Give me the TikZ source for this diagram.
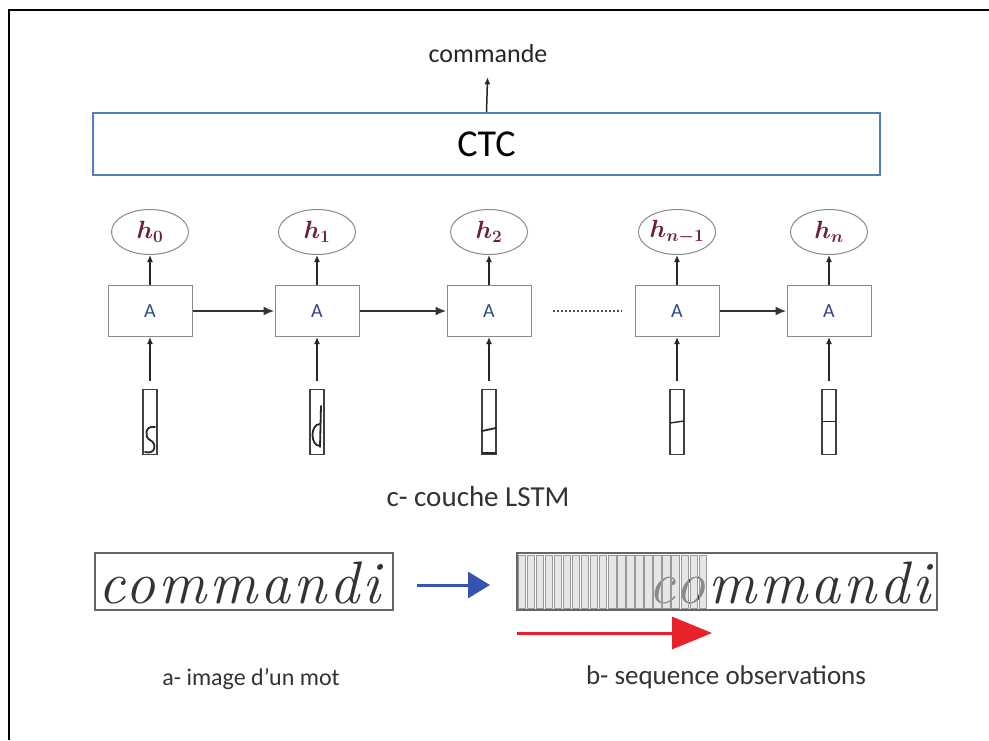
\documentclass[tikz,border=0pt]{standalone}
\usepackage{amsmath,bm}
\usepackage{fontspec}
\setmainfont{Carlito}
\newfontfamily\handfont[LetterSpace=5]{Latin Modern Roman}
\usetikzlibrary{arrows.meta,shapes.geometric}

\definecolor{ctcblue}{HTML}{4F7EC2}
\definecolor{hred}{HTML}{6E1E3C}
\definecolor{cellblue}{HTML}{2E4A86}
\definecolor{edgegray}{HTML}{8A8A8A}
\definecolor{bluearrow}{HTML}{3553B0}
\definecolor{redarrow}{HTML}{E8222B}

\tikzset{
  cell/.style={draw=edgegray, line width=1pt, minimum width=84pt, minimum height=51pt,
    inner sep=0pt, text=cellblue, font=\fontsize{20}{20}\selectfont},
  state/.style={ellipse, draw=edgegray, line width=1pt, minimum width=77pt,
    minimum height=45pt, inner sep=0pt, text=hred, font=\fontsize{23}{26}\selectfont},
  column/.style={draw=black!75, line width=1.2pt, minimum width=14pt,
    minimum height=65pt, inner sep=0pt},
  up/.style={-{Latex[length=7pt,width=6pt]}, line width=1.5pt, draw=black!85},
  flow/.style={-{Latex[length=11pt,width=9pt]}, line width=2.8pt, draw=black!80},
  caption/.style={text=black!80, inner sep=0pt},
  wordbox/.style={draw=black!60, line width=1.2pt, minimum width=298pt,
    minimum height=57pt, inner sep=0pt},
  hand/.style={font=\fontsize{60}{60}\handfont\itshape, text=black!80,
    inner sep=0pt, anchor=base west},
  stroke/.style={line width=1.8pt, draw=black!85, line cap=round}
}

\begin{document}
\begin{tikzpicture}[x=1pt, y=-1pt]
\useasboundingbox (0,0) rectangle (989,740);
\fill[white] (0,0) rectangle (989,740);
\draw[line width=1.5pt] (9,740) -- (9,10) -- (989,10);

% CTC output layer
\node[draw=ctcblue, line width=2pt, minimum width=787pt, minimum height=62pt,
      inner sep=0pt, font=\fontsize{38}{40}\selectfont] (ctc) at (486.5,144) {CTC};
\node[inner sep=0pt, font=\fontsize{26}{30}\selectfont, text=black!85] (out) at (488,54) {commande};
\draw[up, shorten >=14pt] (ctc.north) -- (out.south);

% LSTM chain
\foreach \i/\x/\h in {0/150/0, 1/317/1, 2/489/2, 3/677/{n-1}, 4/829/n}{
  \node[state] (e\i) at (\x,232) {$\boldsymbol{h}_{\boldsymbol{\h}}$};
  \node[cell] (c\i) at (\x,311) {A};
  \node[column] (x\i) at (\x,422) {};
  \draw[up] (c\i.north) -- (e\i.south);
  \draw[up, shorten <=8pt] (x\i.north) -- (c\i.south);
}
\draw[flow] (c0) -- (c1);
\draw[flow] (c1) -- (c2);
\draw[flow] (c3) -- (c4);
\draw[dotted, line width=2pt, draw=black!70, shorten <=21pt, shorten >=13pt] (c2.east) -- (c3.west);

% ink fragments inside the input columns
\draw[stroke] (155,427) .. controls (145,425) and (144,437) .. (150,440)
               .. controls (157,443) and (156,455) .. (145,452);
\draw[stroke] (321,406) -- (320,447);
\draw[stroke] (320,424) .. controls (310,424) and (310,446) .. (320,446);
\draw[stroke] (482,431) -- (496,428);
\draw[stroke] (483,453) -- (495,453);
\draw[stroke, line width=1.4pt] (670,423) -- (684,421);
\draw[stroke, line width=1pt] (823,421) -- (836,421);

\node[caption, font=\fontsize{29}{32}\selectfont] (lstm) at (478,497) {c- couche LSTM};

% word image
\node[wordbox] (word) at (244,581.5) {};
\begin{scope}
  \clip (word.south west) rectangle (word.north east);
  \node[hand] (ink) at (98,603) {commandi};
\end{scope}

% sliced observation sequence
\node[wordbox, minimum width=420pt] (seq) at (727,581.5) {};
\begin{scope}
  \clip (seq.south west) rectangle (seq.north east);
  \node[hand] (inkb) at (648,603) {commandi};
\end{scope}
\foreach \k in {0,...,20}{
  \draw[draw=gray!80, line width=0.8pt, fill=gray!35, fill opacity=0.55]
    ({518+\k*9.05},555) rectangle ++(7.4,53);
}

\coordinate (ba) at (417,585);
\coordinate (bb) at (490,585);
\draw[line width=3pt, draw=bluearrow, -{Triangle[length=22pt,width=26pt]}] (ba) -- (bb);

\coordinate (ra) at (517,633);
\coordinate (rb) at (712,633);
\draw[line width=3pt, draw=redarrow, -{Triangle[length=40pt,width=32pt]}] (ra) -- (rb);

\node[caption, font=\fontsize{24}{28}\selectfont] (capa) at (251,679) {a- image d'un mot};
\node[caption, font=\fontsize{27}{30}\selectfont] (capb) at (726,677) {b- sequence observations};
\end{tikzpicture}
\end{document}
